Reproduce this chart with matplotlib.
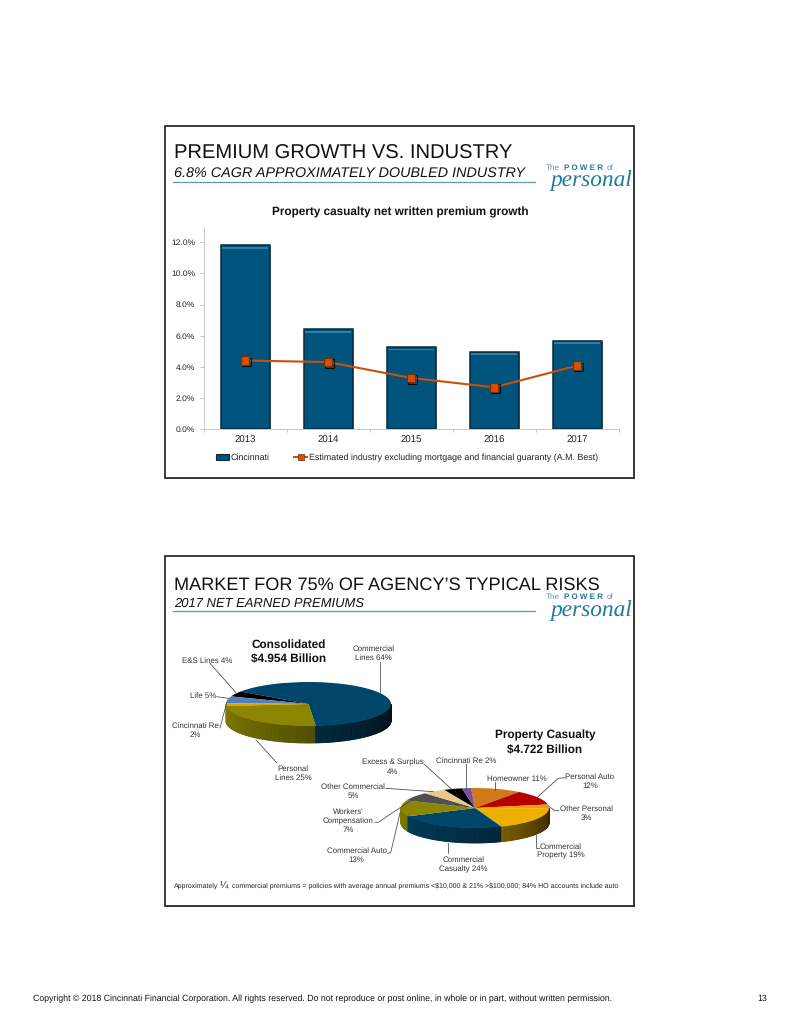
import numpy as np
import matplotlib
matplotlib.use("Agg")
import matplotlib.pyplot as plt
from matplotlib.patches import Rectangle, Patch
from matplotlib.lines import Line2D
import matplotlib.patheffects as pe
import matplotlib.colors as mc

plt.rcParams['font.family'] = ['Liberation Sans', 'DejaVu Sans']
plt.rcParams['text.hinting'] = 'none'
plt.rcParams['text.hinting_factor'] = 8

W, H, DPI = 799, 1034, 100

# ---------- data ----------
years = ['2013', '2014', '2015', '2016', '2017']
cincinnati = [11.8, 6.4, 5.27, 4.98, 5.68]
industry = [4.4, 4.3, 3.28, 2.68, 4.07]
y_ticks = [0, 2, 4, 6, 8, 10, 12]
series_names = ['Cincinnati', 'Estimated industry excluding mortgage and financial guaranty (A.M. Best)']

cons_values = [64, 4, 5, 2, 25]
cons_colors = ['#00466b', '#000000', '#4f81bd', '#e0a000', '#8b8500']

pc_values = [11, 12, 3, 19, 24, 13, 7, 5, 4, 2]
pc_colors = ['#d07a1c', '#b80000', '#f09a10', '#eeb000', '#00466b',
             '#8b8500', '#505050', '#ecc98a', '#000000', '#7a4ea0']

fig = plt.figure(figsize=(W / DPI, H / DPI), dpi=DPI, facecolor='white')
renderer = fig.canvas.get_renderer()

# ---------- helpers ----------
def fit(s, width_px, **kw):
    fs = 8.0
    t = fig.text(0, 0, s, fontsize=fs, **kw)
    for _ in range(4):
        fs *= width_px / t.get_window_extent(renderer).width
        t.set_fontsize(fs)
    t.remove()
    return fs

def rect_ax(x0, y0, x1, y1, **kw):
    return fig.add_axes([x0 / W, 1 - y1 / H, (x1 - x0) / W, (y1 - y0) / H], **kw)

# ---------- page layer (pixel coordinates) ----------
bg = rect_ax(0, 0, W, H, zorder=0)
bg.set_xlim(0, W); bg.set_ylim(H, 0); bg.axis('off')
top = rect_ax(0, 0, W, H, zorder=5)
top.set_xlim(0, W); top.set_ylim(H, 0); top.axis('off'); top.patch.set_alpha(0)

TEAL = '#1f7a9c'
GREY = '#333333'

def slide(y0, y1, title, title_w, title_y, sub, sub_w, sub_y, rule_y, logo_y):
    bg.add_patch(Rectangle((166, y0 + 1), 469, y1 - y0, fc='#bbbbbb', ec='none', zorder=1))
    bg.add_patch(Rectangle((165, y0), 469, y1 - y0, fc='white', ec='#1a1a1a', lw=1.2, zorder=2))
    bg.text(174, title_y, title, fontsize=fit(title, title_w), va='baseline', ha='left', color='#111111', zorder=3)
    bg.text(174, sub_y, sub, fontsize=fit(sub, sub_w, style='italic'), style='italic',
            va='baseline', ha='left', color='#111111', zorder=3)
    bg.plot([173, 535], [rule_y, rule_y], color='#5b9ab0', lw=0.9, zorder=3)
    # logo
    bg.text(546, logo_y, 'The', fontsize=fit('The', 14), color='#5f97ad', va='center_baseline', ha='left', zorder=3)
    bg.text(564, logo_y, 'P O W E R', fontsize=fit('P O W E R', 39, fontweight='bold'), fontweight='bold', color=TEAL, va='center_baseline', ha='left', zorder=3)
    bg.text(607, logo_y, 'of', fontsize=fit('The', 14), color='#5f97ad', va='center_baseline', ha='left', zorder=3)
    bg.text(550, logo_y + 19.5, 'personal', fontsize=fit('personal', 82, family='Liberation Serif', style='italic'),
            family='Liberation Serif', style='italic', color=TEAL, va='baseline', ha='left', zorder=3)

slide(126, 477.5, 'PREMIUM GROWTH VS. INDUSTRY', 339, 158.3,
      '6.8% CAGR APPROXIMATELY DOUBLED INDUSTRY', 352, 177.3, 182, 166.8)
slide(556, 906, 'MARKET FOR 75% OF AGENCY’S TYPICAL RISKS', 427, 590,
      '2017 NET EARNED PREMIUMS', 191, 607.3, 611, 596.2)

# ---------- bar + line chart ----------
ax = rect_ax(203.5, 226.7, 618.7, 429, zorder=3)
ax.patch.set_alpha(0)
xs = np.arange(len(years))
ax.bar(xs, cincinnati, width=0.59, color='#00537c', edgecolor='#0a2a3c', linewidth=1.1, zorder=2,
       path_effects=[pe.SimplePatchShadow(offset=(1, -1), alpha=0.45, shadow_rgbFace='#555555'), pe.Normal()])
ax.bar(xs, [0.11] * 5, bottom=np.array(cincinnati) - 0.21, width=0.56, color='#2f80a8', zorder=3)
ax.plot(xs, industry, color='#c9500c', lw=1.5, zorder=4)
ax.plot(xs, industry, ls='none', marker='s', ms=6.2, mfc='#cf5208', mec='#7a2e04', mew=0.8, zorder=5,
        path_effects=[pe.SimpleLineShadow(offset=(1, -1), alpha=0.8, shadow_color='black'), pe.Normal()])
ax.set_xlim(-0.5, 4.5); ax.set_ylim(0, 13)
ax.set_yticks(y_ticks)
ax.set_yticklabels(['%.1f%%' % v for v in y_ticks], fontsize=fit('12.0%', 24), color='#222222')
ax.set_xticks(xs); ax.set_xticklabels(years, fontsize=fit('2013', 21.5), color='#222222')
ax.set_xticks(np.arange(-0.5, 5, 1), minor=True)
ax.tick_params(axis='x', which='major', length=0, pad=4.5)
ax.tick_params(axis='x', which='minor', length=2.5, color='#c8c8c8', width=0.7)
ax.tick_params(axis='y', length=3, color='#c8c8c8', width=0.7, pad=3)
for s in ('top', 'right'):
    ax.spines[s].set_visible(False)
for s in ('left', 'bottom'):
    ax.spines[s].set_color('#c8c8c8'); ax.spines[s].set_linewidth(0.7)

chart_title = 'Property casualty net written premium growth'
top.text(400, 212, chart_title, fontsize=fit(chart_title, 256, fontweight='bold'), fontweight='bold',
         ha='center', va='center', color='#111111')

leg_fs = fit(series_names[1], 288)
handles = [Patch(fc='#00537c', ec='#0a2a3c', lw=0.8),
           Line2D([], [], color='#c9500c', lw=1.5, marker='s', ms=4.2, mfc='#cf5208', mec='#7a2e04', mew=0.5)]
top.legend(handles, series_names, ncol=2, frameon=False, fontsize=leg_fs, loc='center',
           bbox_to_anchor=(407, 458), bbox_transform=top.transData, handlelength=1.5,
           handletextpad=0.15, columnspacing=2.75, labelcolor='#222222', borderpad=0, borderaxespad=0)

# ---------- pseudo-3D pies ----------
def pie3d(values, colors, cx, cy, a, b, depth, startangle, counterclock):
    m = 1.03
    d = depth / b
    pax = rect_ax(cx - a * m, cy - b * m, cx + a * m, cy + b * m + depth, zorder=3)
    pax.patch.set_alpha(0)
    wedges, _ = pax.pie(values, colors=colors, startangle=startangle, counterclock=counterclock, radius=1,
                        wedgeprops=dict(linewidth=0, zorder=3))
    spans = [(w.theta1 % 360, (w.theta2 - w.theta1) % 360, w.get_facecolor()) for w in wedges]
    step = 1.0
    for t in np.arange(180, 360, step):
        mid = t + step / 2
        col = None
        for th, sp, fc in spans:
            if (mid - th) % 360 <= sp:
                col = fc
                break
        shade = 0.95 - 0.72 * (t - 180) / 180
        c = np.array(mc.to_rgb(col)) * shade
        a1, a2 = np.radians(t), np.radians(t + step)
        pax.fill([np.cos(a1), np.cos(a2), np.cos(a2), np.cos(a1)],
                 [np.sin(a1), np.sin(a2), np.sin(a2) - d, np.sin(a1) - d],
                 color=c, lw=0.6, ec=c, zorder=1)
    pax.set_aspect('auto')
    pax.set_xlim(-m, m); pax.set_ylim(-m - d, m)
    pax.axis('off')

pie3d(cons_values, cons_colors, 308.5, 704, 82.5, 22, 17, -85, True)
pie3d(pc_values, pc_colors, 475, 808, 74, 20, 15, 93, False)

# ---------- pie titles ----------
title_fs = fit('Property Casualty', 100, fontweight='bold')
for s, x, y in [('Consolidated', 288.5, 644), ('$4.954 Billion', 288.5, 658),
                ('Property Casualty', 545, 734.5), ('$4.722 Billion', 545, 749)]:
    top.text(x, y, s.replace('$', r'\$'), fontsize=title_fs, fontweight='bold', ha='center',
             va='center_baseline', color='#111111')

# ---------- pie labels and leader lines ----------
labels = [
    ('E&S Lines 4%', 207, [660]),
    ('Life 5%', 202.7, [695]),
    ('Cincinnati Re\n2%', 195, [725, 734]),
    ('Commercial\nLines 64%', 373.3, [648.3, 657.5]),
    ('Personal\nLines 25%', 293, [768, 777.5]),
    ('Excess & Surplus\n4%', 392.7, [761.7, 770.7]),
    ('Cincinnati Re 2%', 466, [760.3]),
    ('Homeowner 11%', 516.7, [778.3]),
    ('Personal Auto\n12%', 590, [776, 785]),
    ('Other Personal\n3%', 586, [808, 817]),
    ('Commercial\nProperty 19%', 560.7, [845.7, 854.7]),
    ('Commercial\nCasualty 24%', 463.3, [859.3, 868.3]),
    ('Commercial Auto\n13%', 356.7, [850.3, 859.3]),
    ("Workers'\nCompensation\n7%", 348.3, [811, 820, 829]),
    ('Other Commercial\n5%', 353.3, [785.7, 795]),
]
label_fs = fit('Other Commercial', 64)
for txt, x, ys in labels:
    for line, y in zip(txt.split('\n'), ys):
        top.text(x, y, line.replace('$', r'\$'), fontsize=label_fs, ha='center', va='center_baseline', color=GREY)

leaders = [
    [(210, 663.3), (236, 692.7)],
    [(216.7, 696.7), (228.3, 698.3)],
    [(220, 728), (226.7, 702.7)],
    [(379.7, 661.7), (379.7, 691.7)],
    [(277, 763), (256, 740)],
    [(424, 764), (451.7, 789.3)],
    [(465.7, 764.3), (465.7, 789.3)],
    [(495.3, 781.7), (495.3, 790)],
    [(565, 777.7), (558.3, 778.3), (537.3, 797.3)],
    [(559, 810.7), (555, 810.7), (548.3, 806)],
    [(536, 835), (536, 848.3), (539.3, 848.3)],
    [(447.7, 842.7), (447.7, 853.3)],
    [(387.3, 853.3), (390.7, 852.7), (400, 813)],
    [(375, 822.3), (378.3, 822.3), (410, 801)],
    [(385.7, 788.3), (433.3, 791.7)],
]
for pts in leaders:
    xx, yy = zip(*pts)
    top.plot(xx, yy, color='#444444', lw=0.55)

# ---------- footnote and page footer ----------
rest = 'commercial premiums = policies with average annual premiums <$10,000 & 21% >$100,000; 84% HO accounts include auto'
rest_tex = rest.replace('$', r'\$')
note_fs = fit(rest_tex, 391)
top.text(174, 885, 'Approximately', fontsize=note_fs, ha='left', va='center_baseline', color='#222222')
top.text(220, 884.5, '¼', fontsize=7.4, ha='left', va='center_baseline', color='#222222')
top.text(232, 885, rest_tex, fontsize=note_fs, ha='left', va='center_baseline', color='#222222')

foot = 'Copyright © 2018 Cincinnati Financial Corporation. All rights reserved. Do not reproduce or post online, in whole or in part, without written permission.'
foot_fs = fit(foot, 579)
top.text(33, 998, foot, fontsize=foot_fs, ha='left', va='center_baseline', color='#111111')
top.text(767, 998, '13', fontsize=foot_fs, ha='right', va='center_baseline', color='#111111')

fig.savefig('out.png', dpi=DPI, facecolor='white')
